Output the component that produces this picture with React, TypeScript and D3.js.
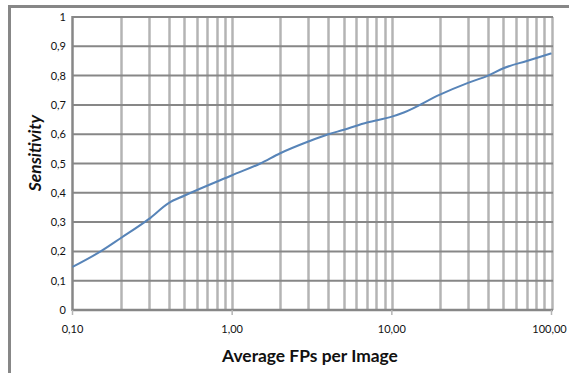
import React, { useEffect, useRef } from 'react'
import * as d3 from 'd3'

// average FPs per image (log axis) vs sensitivity
const fpsPerImage = [0.1, 0.15, 0.2, 0.3, 0.4, 0.5, 1, 1.5, 2, 3, 4, 5, 7, 10, 12, 20, 30, 40, 50, 70, 100]
const sensitivity = [0.147, 0.2, 0.245, 0.31, 0.365, 0.39, 0.46, 0.5, 0.535, 0.575, 0.6, 0.615, 0.64, 0.66, 0.675, 0.735, 0.775, 0.8, 0.825, 0.85, 0.876]

const yTicks = [0, 0.1, 0.2, 0.3, 0.4, 0.5, 0.6, 0.7, 0.8, 0.9, 1]
const xMajorTicks = [0.1, 1, 10, 100]
const xTickLabels = ['0,10', '1,00', '10,00', '100,00']

const FONT = 'Lato, "Open Sans", sans-serif'

function App() {
    const ref = useRef<SVGSVGElement>(null)

    useEffect(() => {
        const svg = d3.select(ref.current)
        svg.selectAll('*').remove()
        const width = 569
        const height = 373
        const left = 72.5
        const right = 551.5
        const top = 17
        const bottom = 310

        const x = d3.scaleLog().domain([0.1, 100]).range([left, right])
        const y = d3.scaleLinear().domain([0, 1]).range([bottom, top])

        svg.append('rect').attr('width', width).attr('height', height).attr('fill', '#fff')

        // outer frame (runs off the right and bottom edges)
        svg.append('path')
            .attr('d', `M9.5,${height + 5} V6.5 H${width + 5}`)
            .attr('fill', 'none')
            .attr('stroke', '#878787')
            .attr('stroke-width', 3)

        // vertical minor grid
        const minor: number[] = []
        for (let p = -1; p < 2; p++) {
            for (let k = 2; k <= 10; k++) minor.push(k * Math.pow(10, p))
        }
        svg.append('g')
            .selectAll('line')
            .data(minor)
            .enter()
            .append('line')
            .attr('x1', d => Math.round(x(d)) + 0.5)
            .attr('x2', d => Math.round(x(d)) + 0.5)
            .attr('y1', top)
            .attr('y2', bottom)
            .attr('stroke', '#b4b4b4')
            .attr('stroke-width', 2.5)

        // horizontal grid
        svg.append('g')
            .selectAll('line')
            .data(yTicks.slice(1))
            .enter()
            .append('line')
            .attr('x1', left)
            .attr('x2', right + 1.5)
            .attr('y1', d => y(d))
            .attr('y2', d => y(d))
            .attr('stroke', '#878787')
            .attr('stroke-width', 2)

        // axes
        svg.append('line')
            .attr('x1', left).attr('x2', left)
            .attr('y1', top - 1).attr('y2', bottom + 1)
            .attr('stroke', '#878787').attr('stroke-width', 2.5)
        svg.append('line')
            .attr('x1', left).attr('x2', right + 1.5)
            .attr('y1', bottom).attr('y2', bottom)
            .attr('stroke', '#878787').attr('stroke-width', 2.5)

        svg.append('g')
            .selectAll('line')
            .data(xMajorTicks)
            .enter()
            .append('line')
            .attr('x1', d => x(d))
            .attr('x2', d => x(d))
            .attr('y1', bottom)
            .attr('y2', bottom + 5)
            .attr('stroke', '#b4b4b4')
            .attr('stroke-width', 1.5)

        // tick labels
        svg.append('g')
            .selectAll('text')
            .data(yTicks)
            .enter()
            .append('text')
            .attr('x', 66)
            .attr('y', d => y(d) + 4)
            .attr('text-anchor', 'end')
            .style('font-family', FONT)
            .style('font-size', '11px')
            .attr('fill', '#111')
            .text(d => String(d).replace('.', ','))

        svg.append('g')
            .selectAll('text')
            .data(xMajorTicks)
            .enter()
            .append('text')
            .attr('x', (d, i) => x(d) - (i === 3 ? 2 : 0))
            .attr('y', 333)
            .attr('text-anchor', 'middle')
            .style('font-family', FONT)
            .style('font-size', '11px')
            .attr('fill', '#111')
            .text((d, i) => xTickLabels[i])

        // axis titles
        svg.append('text')
            .attr('x', 310)
            .attr('y', 362)
            .attr('text-anchor', 'middle')
            .style('font-family', FONT)
            .style('font-size', '17.4px')
            .style('font-weight', 'bold')
            .attr('fill', '#111')
            .text('Average FPs per Image')
        svg.append('text')
            .attr('transform', 'translate(41,' + 153 + ') rotate(-90)')
            .attr('text-anchor', 'middle')
            .style('font-family', FONT)
            .style('font-size', '17.4px')
            .style('font-weight', 'bold')
            .style('font-style', 'italic')
            .attr('fill', '#111')
            .text('Sensitivity')

        // curve
        const line = d3.line<number>()
            .x((d, i) => x(fpsPerImage[i]))
            .y(d => y(d))
            .curve(d3.curveMonotoneX)
        svg.append('path')
            .datum(sensitivity)
            .attr('d', line)
            .attr('fill', 'none')
            .attr('stroke', '#5784b8')
            .attr('stroke-width', 2)
    }, [])

    return (
        <svg ref={ref} width={569} height={373} style={{ position: 'absolute', left: 0, top: 0 }}></svg>
    )
}

export default App
